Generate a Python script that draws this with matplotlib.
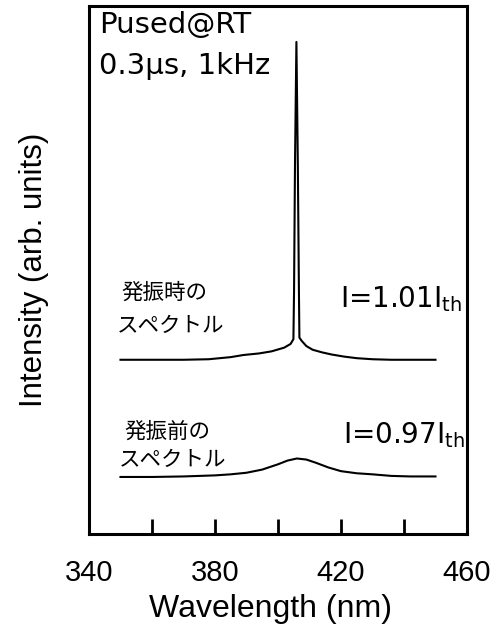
import matplotlib
matplotlib.use('Agg')
import matplotlib.pyplot as plt

plt.rcParams['font.family'] = ['Liberation Sans', 'Noto Sans CJK JP']

# Spectrum just below threshold (I = 0.97 Ith)
wl_below = [350, 360, 370, 380, 385, 390, 395, 400, 403, 406, 409, 412, 416, 420, 425, 430, 436, 442, 450]
I_below = [10.8, 10.8, 10.9, 11.1, 11.3, 11.6, 12.2, 13.2, 13.9, 14.3, 14.1, 13.5, 12.6, 11.9, 11.5, 11.3, 11.0, 10.9, 10.9]

# Spectrum during lasing (I = 1.01 Ith)
wl_lasing = [350, 360, 370, 378, 385, 389, 394, 398, 402, 404, 404.9, 405.1, 405.4, 405.85,
             406.3, 406.65, 406.8, 407.5, 409, 411, 414, 417, 421, 425, 430, 436, 442, 450]
I_lasing = [33.0, 33.0, 33.0, 33.1, 33.5, 33.9, 34.2, 34.6, 35.3, 36.0, 36.9, 46.0, 70.0, 93.2,
            70.0, 46.0, 37.2, 36.6, 35.6, 34.9, 34.4, 34.0, 33.6, 33.3, 33.1, 33.0, 33.0, 33.0]

xticks = [340, 360, 380, 400, 420, 440, 460]
xtick_labels = ['340', '', '380', '', '420', '', '460']

fig = plt.figure(figsize=(5.01, 6.30), dpi=100)
ax = fig.add_axes([0.1776, 0.1524, 0.7545, 0.838])

ax.plot(wl_below, I_below, color='black', lw=1.5)
ax.plot(wl_lasing, I_lasing, color='black', lw=1.5)

ax.set_xlim(340, 460)
ax.set_ylim(0, 100)
ax.set_xticks(xticks)
ax.set_xticklabels(xtick_labels)
ax.set_yticks([])
ax.tick_params(axis='x', direction='in', length=11, width=2.0, labelsize=21, pad=18)
for s in ax.spines.values():
    s.set_linewidth(2.2)

ax.set_xlabel('Wavelength (nm)', fontsize=23)
ax.xaxis.set_label_coords(0.479, -0.113)
ax.set_ylabel('Intensity (arb. units)', fontsize=22.5)
ax.yaxis.set_label_coords(-0.105, 0.5)

# measurement conditions
ann = ['DejaVu Sans', 'Noto Sans CJK JP']
ax.text(343.2, 94.9, 'Pused@RT', fontsize=21, va='baseline', family=ann)
ax.text(343.2, 87.1, '0.3\u03bcs, 1kHz', fontsize=21, va='baseline', family=ann)

ax.text(350.3, 45.6, '発振時の', fontsize=15.5, va='center')
ax.text(349.0, 39.4, 'スペクトル', fontsize=15.5, va='center')
ax.text(351.2, 19.3, '発振前の', fontsize=15.5, va='center')
ax.text(349.6, 14.0, 'スペクトル', fontsize=15.5, va='center')

ax.text(419.7, 43.0, r'I=1.01I$_{\mathrm{th}}$', fontsize=20, va='baseline', family=ann)
ax.text(420.6, 17.2, r'I=0.97I$_{\mathrm{th}}$', fontsize=20, va='baseline', family=ann)

fig.savefig('out.png', dpi=100)
